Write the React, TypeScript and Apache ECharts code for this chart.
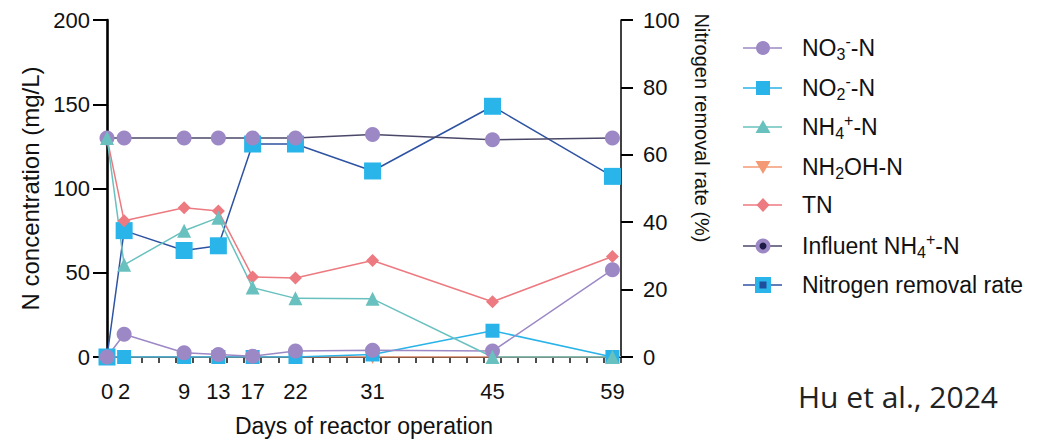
import React, { useEffect, useRef } from "react";
import * as echarts from "echarts";

// ---- data ----
const days = [0, 2, 9, 13, 17, 22, 31, 45, 59];
const no3N = [0, 13.5, 2.5, 1.5, 0.5, 3.5, 4, 3.5, 51.8];
const no2N = [0, 0, 0, 0, 0, 0, 1.5, 15.6, 0];
const nh4N = [130, 54.7, 74.9, 82.7, 41.2, 34.8, 34.5, 0, 0];
const nh2ohN = [0, 0, 0, 0, 0, 0, 0, 0, 0];
const tn = [130, 80.8, 88.6, 86.6, 47.5, 46.9, 57.3, 32.8, 59.6];
const influentNH4 = [130, 130, 130, 130, 130, 130, 132, 129, 130];
const removalRate = [0, 37.5, 31.6, 33, 63.2, 63.2, 55.2, 74.4, 53.6];
const xTickLabels = [0, 2, 9, 13, 17, 22, 31, 45, 59];

const FONT = "Liberation Sans";
const C = {
  no3: "#9d88c6",
  no2: "#29b3e8",
  nh4: "#68c1be",
  nh2oh: "#f39a74",
  tn: "#ec7a80",
  infLine: "#4a4868",
  infDot: "#1e1c46",
  remLine: "#2e53a3",
  remOuter: "#29b5ea",
  remInner: "#1f4e9e",
};

const pairs = (vals: number[]) => days.map((d, i) => [d, vals[i]]);

function buildLegend() {
  const x0 = 743, x1 = 782, cx = 763, tx = 802;
  const ys = [48, 88, 127, 167, 205, 246, 285];
  const els: any[] = [];
  const line = (y: number, color: string) => ({
    type: "line",
    shape: { x1: x0, y1: y, x2: x1, y2: y },
    style: { stroke: color, lineWidth: 1.5 },
  });
  const rich = {
    m: { fontSize: 23, fontFamily: FONT, fill: "#111", lineHeight: 29 },
    sb: { fontSize: 16, fontFamily: FONT, fill: "#111", lineHeight: 16, verticalAlign: "bottom" },
    sp: { fontSize: 16, fontFamily: FONT, fill: "#111", lineHeight: 16, verticalAlign: "top" },
  };
  const label = (y: number, text: string) => ({
    type: "text",
    x: tx,
    y,
    style: {
      text,
      rich,
      fill: "#111",
      fontSize: 23,
      fontFamily: FONT,
      verticalAlign: "middle",
      align: "left",
    },
  });
  els.push(line(ys[0], C.no3));
  els.push({ type: "circle", shape: { cx, cy: ys[0], r: 7 }, style: { fill: C.no3 } });
  els.push(label(ys[0], "{m|NO}{sb|3}{sp|-}{m|-N}"));
  els.push(line(ys[1], C.no2));
  els.push({ type: "rect", shape: { x: cx - 7, y: ys[1] - 7, width: 14, height: 14 }, style: { fill: C.no2 } });
  els.push(label(ys[1], "{m|NO}{sb|2}{sp|-}{m|-N}"));
  els.push(line(ys[2], C.nh4));
  els.push({ type: "polygon", shape: { points: [[cx, ys[2] - 7], [cx - 7.5, ys[2] + 6], [cx + 7.5, ys[2] + 6]] }, style: { fill: C.nh4 } });
  els.push(label(ys[2], "{m|NH}{sb|4}{sp|+}{m|-N}"));
  els.push(line(ys[3], C.nh2oh));
  els.push({ type: "polygon", shape: { points: [[cx, ys[3] + 7], [cx - 7.5, ys[3] - 6], [cx + 7.5, ys[3] - 6]] }, style: { fill: C.nh2oh } });
  els.push(label(ys[3], "{m|NH}{sb|2}{m|OH-N}"));
  els.push(line(ys[4], C.tn));
  els.push({ type: "polygon", shape: { points: [[cx, ys[4] - 7], [cx + 6.5, ys[4]], [cx, ys[4] + 7], [cx - 6.5, ys[4]]] }, style: { fill: C.tn } });
  els.push(label(ys[4], "{m|TN}"));
  els.push(line(ys[5], C.infLine));
  els.push({ type: "circle", shape: { cx, cy: ys[5], r: 7.5 }, style: { fill: C.no3 } });
  els.push({ type: "circle", shape: { cx, cy: ys[5], r: 3.5 }, style: { fill: C.infDot } });
  els.push(label(ys[5], "{m|Influent NH}{sb|4}{sp|+}{m|-N}"));
  els.push(line(ys[6], C.remLine));
  els.push({ type: "rect", shape: { x: cx - 8, y: ys[6] - 8, width: 16, height: 16 }, style: { fill: C.remOuter } });
  els.push({ type: "rect", shape: { x: cx - 3.5, y: ys[6] - 3.5, width: 7, height: 7 }, style: { fill: C.remInner } });
  els.push(label(ys[6], "{m|Nitrogen removal rate}"));
  return els;
}

export default function App() {
  const ref = useRef<HTMLDivElement>(null);
  useEffect(() => {
    if (!ref.current) return;
    const chart = echarts.init(ref.current, undefined, { renderer: "svg" });
    const evenTicks: number[] = [];
    for (let v = 0; v <= 60; v += 2) evenTicks.push(v);
    const lineSeries = (name: string, vals: number[], color: string, symbol: string, size: number, extra: any = {}) => ({
      name,
      type: "line",
      data: pairs(vals),
      symbol,
      symbolSize: size,
      itemStyle: { color },
      lineStyle: { color, width: 1.5 },
      ...extra,
    });
    chart.setOption({
      animation: false,
      backgroundColor: "#ffffff",
      textStyle: { fontFamily: FONT },
      grid: { left: 107, right: 416, top: 20, bottom: 81, containLabel: false },
      xAxis: [
        {
          type: "value",
          min: 0,
          max: 60,
          interval: 2,
          position: "bottom",
          name: "Days of reactor operation",
          nameLocation: "middle",
          nameGap: 57,
          nameTextStyle: { fontSize: 23, color: "#111", fontFamily: FONT },
          axisLine: { show: true, onZero: false, lineStyle: { color: "#a0a4a8", width: 2 } },
          axisTick: { show: true, length: 6, customValues: evenTicks, lineStyle: { color: "#111", width: 1.5 } },
          axisLabel: { customValues: xTickLabels, fontSize: 22, color: "#111", margin: 23, fontFamily: FONT },
          splitLine: { show: false },
        },
        {
          type: "value",
          min: 0,
          max: 60,
          position: "top",
          axisLine: { show: true, lineStyle: { color: "#111", width: 1.2 } },
          axisTick: { show: false },
          axisLabel: { show: false },
          splitLine: { show: false },
        },
      ],
      yAxis: [
        {
          type: "value",
          min: 0,
          max: 200,
          interval: 50,
          position: "left",
          name: "N concentration (mg/L)",
          nameLocation: "middle",
          nameGap: 65,
          nameTextStyle: { fontSize: 24, color: "#111", fontFamily: FONT },
          axisLine: { show: true, onZero: false, lineStyle: { color: "#000", width: 2.6 } },
          axisTick: { show: true, length: 14, lineStyle: { color: "#000", width: 2 } },
          axisLabel: { fontSize: 22, color: "#111", margin: 17, fontFamily: FONT },
          splitLine: { show: false },
        },
        {
          type: "value",
          min: 0,
          max: 100,
          interval: 20,
          position: "right",
          axisLine: { show: true, onZero: false, lineStyle: { color: "#000", width: 1.5 } },
          axisTick: { show: true, length: 12, lineStyle: { color: "#000", width: 2 } },
          axisLabel: { fontSize: 22, color: "#111", margin: 22, fontFamily: FONT },
          splitLine: { show: false },
        },
      ],
      series: [
        lineSeries("Nitrogen removal rate", removalRate, C.remOuter, "rect", 17, {
          yAxisIndex: 1,
          lineStyle: { color: C.remLine, width: 1.5 },
        }),
        {
          name: "Nitrogen removal rate (inner)",
          type: "scatter",
          yAxisIndex: 1,
          data: pairs(removalRate),
          symbol: "rect",
          symbolSize: 7,
          itemStyle: { color: C.remInner },
        },
        lineSeries("NH2OH-N", nh2ohN, C.nh2oh, "triangle", 14, { symbolRotate: 180 }),
        lineSeries("NO2--N", no2N, C.no2, "rect", 14),
        lineSeries("TN", tn, C.tn, "diamond", 13),
        lineSeries("NO3--N", no3N, C.no3, "circle", 15),
        lineSeries("Influent NH4+-N", influentNH4, C.no3, "circle", 15, {
          lineStyle: { color: C.infLine, width: 1.5 },
        }),
        {
          name: "Influent NH4+-N (inner)",
          type: "scatter",
          data: pairs(influentNH4),
          symbol: "circle",
          symbolSize: 7,
          itemStyle: { color: C.infDot },
        },
        lineSeries("NH4+-N", nh4N, C.nh4, "triangle", 14),
      ],
      graphic: [
        ...buildLegend(),
        {
          type: "text",
          x: 702,
          y: 128,
          rotation: -Math.PI / 2,
          style: {
            text: "Nitrogen removal rate (%)",
            fontSize: 20,
            fontFamily: FONT,
            fill: "#111",
            align: "center",
            verticalAlign: "middle",
          },
        },
        {
          type: "text",
          x: 798,
          y: 396,
          style: {
            text: "Hu et al., 2024",
            fontSize: 30,
            fontFamily: "Open Sans",
            fill: "#222",
            align: "left",
            verticalAlign: "middle",
          },
        },
      ],
    });
    return () => chart.dispose();
  }, []);
  return <div ref={ref} style={{ position: "fixed", left: 0, top: 0, width: 1037, height: 442 }} />;
}
